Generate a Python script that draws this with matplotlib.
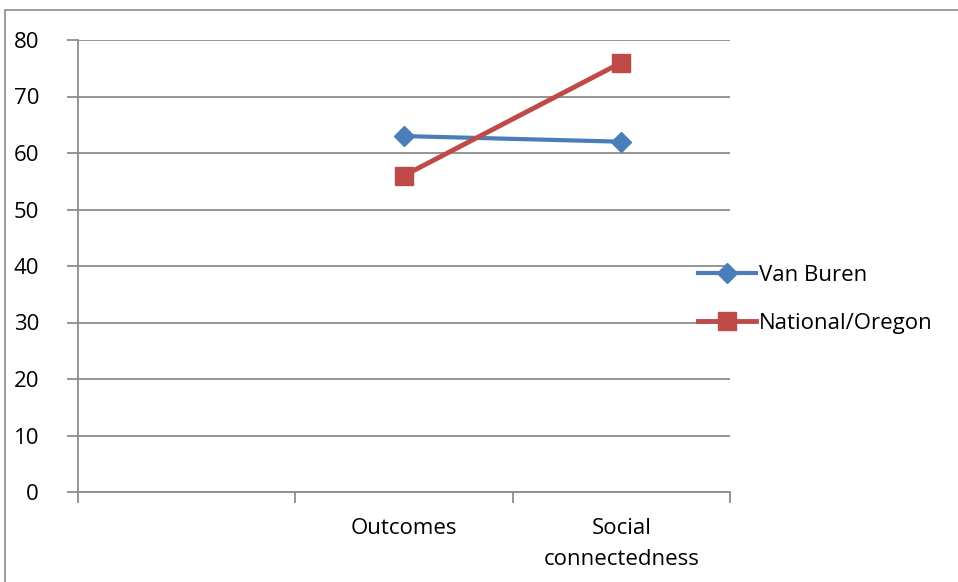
import matplotlib.pyplot as plt
from matplotlib.patches import Rectangle

categories = ['', 'Outcomes', 'Social\nconnectedness']
van_buren = [None, 63, 62]
national_oregon = [None, 56, 76]
y_ticks = [0, 10, 20, 30, 40, 50, 60, 70, 80]

W, H = 958, 582
fig = plt.figure(figsize=(W / 100, H / 100), dpi=100)
plt.rcParams['font.family'] = ['Open Sans', 'DejaVu Sans']
fs = 16

# outer chart border
fig.patches.append(Rectangle((5 / W, -0.1), 1.1, (H - 10) / H + 0.1,
                             transform=fig.transFigure, fill=False,
                             edgecolor='#8c8c8c', linewidth=1.2))

ax = fig.add_axes([78 / W, (H - 492) / H, 652 / W, 452 / H])
grid_c = '#8c8c8c'
for s in ['top', 'right']:
    ax.spines[s].set_visible(False)
for s in ['left', 'bottom']:
    ax.spines[s].set_color(grid_c)
    ax.spines[s].set_linewidth(1.3)

ax.set_ylim(0, 80)
ax.set_xlim(-0.5, len(categories) - 0.5)
ax.set_yticks(y_ticks)
ax.yaxis.grid(True, color=grid_c, linewidth=1.3)
ax.set_axisbelow(True)

x = list(range(len(categories)))
xs_vb = [i for i, v in zip(x, van_buren) if v is not None]
vb = [v for v in van_buren if v is not None]
xs_no = [i for i, v in zip(x, national_oregon) if v is not None]
no = [v for v in national_oregon if v is not None]

ax.plot(xs_vb, vb, color='#4a7ebb', linewidth=3, marker='D', markersize=10,
        label='Van Buren', zorder=3)
ax.plot(xs_no, no, color='#be4b48', linewidth=3.5, marker='s', markersize=13,
        label='National/Oregon', zorder=3)

ax.set_xticks([i - 0.5 for i in range(len(categories) + 1)])
ax.set_xticklabels([])
ax.set_xticks(x, minor=True)
ax.set_xticklabels(categories, minor=True, fontsize=fs, linespacing=1.62)
ax.tick_params(axis='x', which='major', length=8, color=grid_c, width=1.3)
ax.tick_params(axis='x', which='minor', length=0, pad=19)
ax.tick_params(axis='y', length=8, color=grid_c, width=1.3, labelsize=fs, pad=20)

leg = fig.legend(loc='upper left', bbox_to_anchor=(698 / W, (H - 265) / H),
                 frameon=False, fontsize=fs, handlelength=2.6, handletextpad=0.15,
                 labelspacing=1.2, borderaxespad=0, borderpad=0)

fig.savefig('out.png', dpi=100)
